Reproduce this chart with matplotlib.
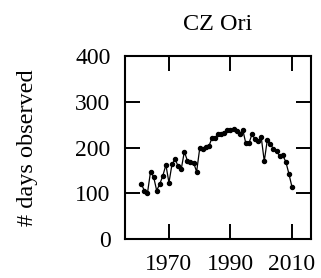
import matplotlib
matplotlib.use("Agg")
import matplotlib.pyplot as plt

# yearly number of nights with observations
years = list(range(1961, 2011))
days = [120, 106, 100, 147, 136, 106, 120, 138, 162, 123,
        164, 174, 159, 153, 191, 171, 169, 167, 147, 198,
        196, 201, 203, 221, 220, 230, 229, 232, 239, 239,
        241, 236, 229, 239, 209, 209, 229, 218, 214, 223,
        170, 217, 207, 197, 193, 181, 183, 169, 143, 114]

title = "CZ Ori"
ylabel = "# days observed"
xticks = [1970, 1990, 2010]
yticks = [0, 100, 200, 300, 400]

plt.rcParams['font.family'] = ['Liberation Serif', 'DejaVu Serif']

fig = plt.figure(figsize=(3.21, 2.78), dpi=100)
ax = fig.add_axes([125 / 321, 1 - 239 / 278, 186 / 321, 183 / 278])

ax.plot(years, days, color='black', lw=0.9, marker='o', ms=2.9)

ax.set_xlim(1955.7, 2016.2)
ax.set_ylim(0, 400)
ax.set_xticks(xticks)
ax.set_yticks(yticks)
ax.tick_params(direction='in', length=10.5, width=1.4, top=True, right=True,
               labelsize=17)
ax.tick_params(axis='x', pad=11)
ax.tick_params(axis='y', pad=10.5)
for s in ax.spines.values():
    s.set_linewidth(1.5)

ax.set_title(title, fontsize=17.5, pad=19)
ax.set_ylabel(ylabel, fontsize=17.5, labelpad=27)

fig.savefig("out.png", dpi=100)
